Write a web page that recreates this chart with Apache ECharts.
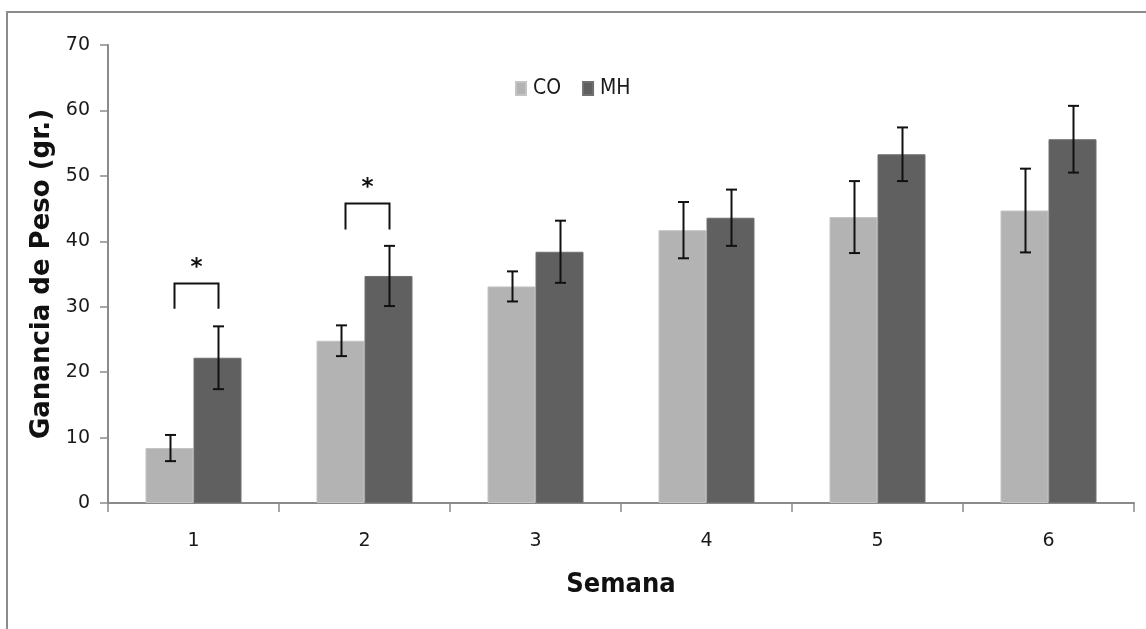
<!DOCTYPE html>
<html>
<head>
<meta charset="utf-8">
<script src="https://cdn.jsdelivr.net/npm/echarts@6/dist/echarts.min.js"></script>
<style>
  html, body { margin: 0; padding: 0; background: #ffffff; }
  #chart { width: 1146px; height: 629px; }
</style>
</head>
<body>
<div id="chart"></div>
<script>
// Weekly weight gain (g), control (CO) vs MH group, mean ± error
const weeks = ['1', '2', '3', '4', '5', '6'];
const coMean = [8.4, 24.8, 33.1, 41.7, 43.7, 44.7];
const coErr  = [2.0, 2.35, 2.3, 4.3, 5.5, 6.4];
const mhMean = [22.2, 34.7, 38.4, 43.6, 53.3, 55.6];
const mhErr  = [4.8, 4.6, 4.75, 4.3, 4.1, 5.1];

// Significance brackets (week, bracket top, leg bottom, mark)
const sigWeeks  = ['1', '2'];
const sigTop    = [33.7, 45.9];
const sigBottom = [29.7, 41.8];
const sigMark   = ['*', '*'];

const yTicks = [0, 10, 20, 30, 40, 50, 60, 70];

const BAR_W = 48;
const CO_COLOR = '#b3b3b3';
const MH_COLOR = '#606060';
const AXIS_COLOR = '#8a8a8a';
const NARROW = '"Liberation Sans Narrow", "DejaVu Sans Condensed", "Arial Narrow", sans-serif';

function errorBars(means, errs, side) {
  return {
    type: 'custom',
    silent: true,
    z: 5,
    data: weeks.map((w, i) => [i, means[i] - errs[i], means[i] + errs[i]]),
    renderItem: function (params, api) {
      const lo = api.coord([api.value(0), api.value(1)]);
      const hi = api.coord([api.value(0), api.value(2)]);
      const x = Math.round(lo[0] + side * BAR_W / 2) + 0.5;
      const cap = 5.5;
      const style = { stroke: '#111', lineWidth: 2, fill: null };
      return {
        type: 'group',
        children: [
          { type: 'line', shape: { x1: x, y1: lo[1], x2: x, y2: hi[1] }, style: style },
          { type: 'line', shape: { x1: x - cap, y1: lo[1], x2: x + cap, y2: lo[1] }, style: style },
          { type: 'line', shape: { x1: x - cap, y1: hi[1], x2: x + cap, y2: hi[1] }, style: style }
        ]
      };
    }
  };
}

const chart = echarts.init(document.getElementById('chart'), null, { renderer: 'canvas' });

chart.setOption({
  animation: false,
  backgroundColor: '#ffffff',
  graphic: [{
    type: 'rect',
    shape: { x: 7, y: 12, width: 1200, height: 700 },
    style: { fill: null, stroke: '#8c8c8c', lineWidth: 2 },
    silent: true,
    z: -10
  }],
  grid: { left: 108, right: 12, top: 45, bottom: 126 },
  legend: {
    data: ['CO', 'MH'],
    left: 510,
    top: 73,
    icon: 'rect',
    itemWidth: 10,
    itemHeight: 13,
    itemGap: 21,
    textStyle: { fontFamily: NARROW, fontSize: 21, color: '#1a1a1a', padding: [0, 0, 0, 2] }
  },
  xAxis: {
    type: 'category',
    data: weeks,
    name: 'Semana',
    nameLocation: 'middle',
    nameGap: 68,
    nameTextStyle: { fontFamily: NARROW, fontSize: 27, fontWeight: 'bold', color: '#111' },
    axisLine: { lineStyle: { color: AXIS_COLOR, width: 2 } },
    axisTick: { show: true, length: 9, alignWithLabel: false, lineStyle: { color: AXIS_COLOR, width: 1.5 } },
    axisLabel: { margin: 29, fontFamily: 'DejaVu Sans', fontSize: 19, color: '#1a1a1a' }
  },
  yAxis: {
    type: 'value',
    min: yTicks[0],
    max: yTicks[yTicks.length - 1],
    interval: 10,
    name: 'Ganancia de Peso (gr.)',
    nameLocation: 'middle',
    nameGap: 42,
    nameRotate: 90,
    nameTextStyle: { fontFamily: 'DejaVu Sans', fontSize: 26, fontWeight: 'bold', color: '#111' },
    axisLine: { show: true, lineStyle: { color: AXIS_COLOR, width: 2 } },
    axisTick: { show: true, length: 8, lineStyle: { color: AXIS_COLOR, width: 1.5 } },
    axisLabel: { margin: 18, fontFamily: 'DejaVu Sans', fontSize: 19, color: '#1a1a1a' },
    splitLine: { show: false }
  },
  series: [
    {
      name: 'CO',
      type: 'bar',
      data: coMean,
      barWidth: BAR_W,
      barGap: '0%',
      itemStyle: { color: CO_COLOR, borderColor: '#c4c4c4', borderWidth: 1 }
    },
    {
      name: 'MH',
      type: 'bar',
      data: mhMean,
      barWidth: BAR_W,
      barGap: '0%',
      itemStyle: { color: MH_COLOR, borderColor: '#707070', borderWidth: 1 }
    },
    errorBars(coMean, coErr, -1),
    errorBars(mhMean, mhErr, 1),
    {
      type: 'custom',
      silent: true,
      z: 6,
      data: sigWeeks.map((w, i) => [weeks.indexOf(w), sigTop[i], sigBottom[i], sigMark[i]]),
      renderItem: function (params, api) {
        const top = api.coord([api.value(0), api.value(1)]);
        const bot = api.coord([api.value(0), api.value(2)]);
        const cx = top[0];
        const xl = Math.round(cx - 20) + 0.5;
        const xr = Math.round(cx + 24) + 0.5;
        const yt = Math.round(top[1]) + 0.5;
        return {
          type: 'group',
          children: [
            {
              type: 'polyline',
              shape: { points: [[xl, bot[1]], [xl, yt], [xr, yt], [xr, bot[1]]] },
              style: { stroke: '#111', lineWidth: 2, fill: null }
            },
            {
              type: 'text',
              style: {
                text: api.value(3),
                x: cx + 3,
                y: yt - 15,
                textAlign: 'center',
                textVerticalAlign: 'middle',
                fontFamily: 'DejaVu Sans',
                fontWeight: 'bold',
                fontSize: 23,
                fill: '#111'
              }
            }
          ]
        };
      }
    }
  ]
});
</script>
</body>
</html>
